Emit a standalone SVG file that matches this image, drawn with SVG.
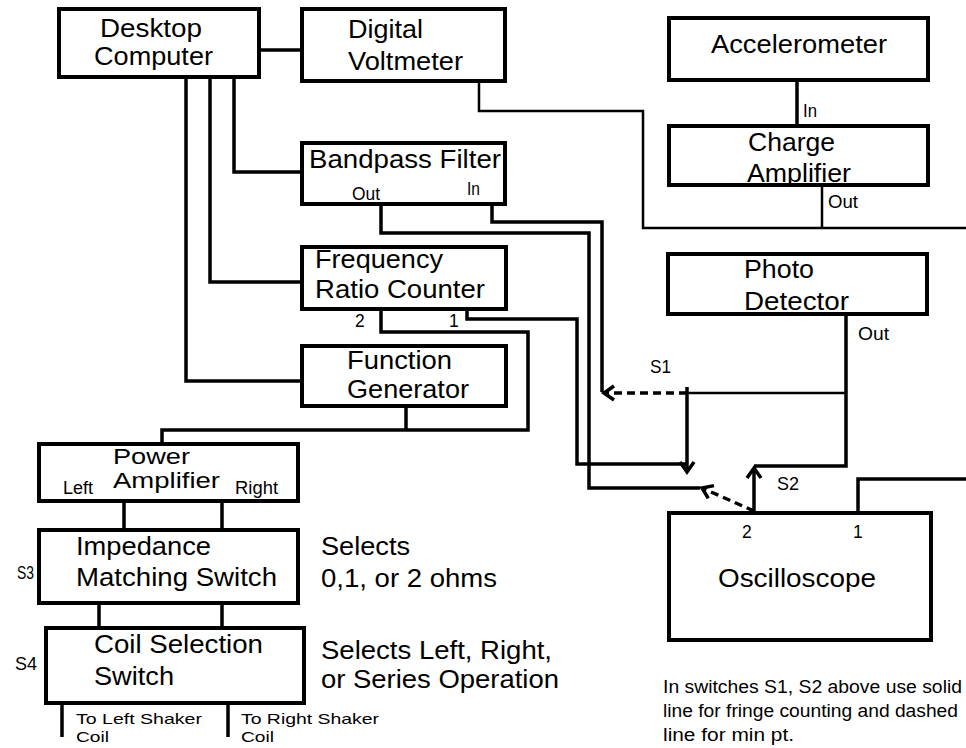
<svg xmlns="http://www.w3.org/2000/svg" width="966" height="748" viewBox="0 0 966 748">
<style>
  .box{fill:#fff;stroke:#000;stroke-width:4}
  .lbl{font-family:"Liberation Sans",Arial,sans-serif;font-size:26px;fill:#000}
  .sm{font-family:"Liberation Sans",Arial,sans-serif;font-size:17.5px;fill:#000}
  .coil{font-family:"Liberation Sans",Arial,sans-serif;font-size:15px;fill:#000}
  .note{font-family:"Liberation Sans",Arial,sans-serif;font-size:17.5px;fill:#000}
  .w3{fill:none;stroke:#000;stroke-width:3.5}
  .w2{fill:none;stroke:#000;stroke-width:2.5}
  .dash{fill:none;stroke:#000;stroke-width:3.5;stroke-dasharray:8 5}
</style>
<defs>
  <marker id="arr" markerUnits="userSpaceOnUse" markerWidth="20" markerHeight="20" refX="14" refY="10" orient="auto">
    <path d="M4,3 L14,10 L4,17" fill="none" stroke="#000" stroke-width="3.5"/>
  </marker>
</defs>
<rect width="966" height="748" fill="#fff"/>

<g id="connectors">
  <path class="w3" d="M259,50 H302"/>
  <path class="w3" d="M234,77 V172 H302"/>
  <path class="w3" d="M210,77 V282 H302"/>
  <path class="w3" d="M186,77 V381 H302"/>
  <path class="w2" d="M479,81 V111 H643 V228 H966"/>
  <path class="w2" d="M822,185 V228"/>
  <path class="w3" d="M797,80 V126"/>
  <path class="w3" d="M492,204 V222 H602 V392"/>
  <path class="w3" d="M381,204 V233 H589 V488 H700"/>
  <path class="w3" d="M467,309 V319 H577 V464 H687"/>
  <path class="w3" d="M381,309 V332 H528 V430 H162 V444"/>
  <path class="w3" d="M406,406 V430"/>
  <path class="w3" d="M846,314 V466 H754"/>
  <path class="w2" d="M846,393 H687"/>
  <path class="w3" d="M687,387 V472" marker-end="url(#arr)"/>
  <path class="dash" d="M687,393 H604" marker-end="url(#arr)"/>
  <path class="w3" d="M754,513 V468" marker-end="url(#arr)"/>
  <path class="dash" d="M754,511 L702,488" marker-end="url(#arr)"/>
  <path class="w3" d="M858,513 V479 H966"/>
  <path class="w3" d="M124,501 V530 M222,501 V530"/>
  <path class="w3" d="M99,603 V628 M222,600 V628"/>
  <path class="w3" d="M62,703 V737 M228,703 V737"/>
</g>

<g id="desktop">
  <rect class="box" x="59" y="9" width="200" height="68"/>
  <text class="lbl" x="100" y="37" textLength="102" lengthAdjust="spacingAndGlyphs">Desktop</text>
  <text class="lbl" x="94" y="65" textLength="119" lengthAdjust="spacingAndGlyphs">Computer</text>
</g>
<g id="dvm">
  <rect class="box" x="302" y="9" width="203" height="72"/>
  <text class="lbl" x="348" y="38" textLength="75" lengthAdjust="spacingAndGlyphs">Digital</text>
  <text class="lbl" x="348" y="70" textLength="115" lengthAdjust="spacingAndGlyphs">Voltmeter</text>
</g>
<g id="bpf">
  <rect class="box" x="302" y="143" width="203" height="61"/>
  <text class="lbl" x="309" y="168" textLength="192" lengthAdjust="spacingAndGlyphs">Bandpass Filter</text>
  <text class="sm" x="352" y="200" textLength="28" lengthAdjust="spacingAndGlyphs">Out</text>
  <text class="sm" x="467" y="195" textLength="13" lengthAdjust="spacingAndGlyphs">In</text>
</g>
<g id="frc">
  <rect class="box" x="302" y="247" width="204" height="62"/>
  <text class="lbl" x="315" y="268" textLength="128" lengthAdjust="spacingAndGlyphs">Frequency</text>
  <text class="lbl" x="315" y="298" textLength="170" lengthAdjust="spacingAndGlyphs">Ratio Counter</text>
  <text class="sm" x="355" y="327">2</text>
  <text class="sm" x="449" y="327">1</text>
</g>
<g id="fg">
  <rect class="box" x="302" y="346" width="204" height="60"/>
  <text class="lbl" x="347" y="369" textLength="105" lengthAdjust="spacingAndGlyphs">Function</text>
  <text class="lbl" x="347" y="398" textLength="122" lengthAdjust="spacingAndGlyphs">Generator</text>
</g>
<g id="pa">
  <rect class="box" x="39" y="444" width="259" height="57"/>
  <text class="lbl" x="113" y="464" style="font-size:22px" textLength="77" lengthAdjust="spacingAndGlyphs">Power</text>
  <text class="lbl" x="113" y="488" style="font-size:22px" textLength="107" lengthAdjust="spacingAndGlyphs">Amplifier</text>
  <text class="sm" x="63" y="494" textLength="30" lengthAdjust="spacingAndGlyphs">Left</text>
  <text class="sm" x="235" y="494" textLength="43" lengthAdjust="spacingAndGlyphs">Right</text>
</g>
<g id="ims">
  <rect class="box" x="39" y="530" width="259" height="73"/>
  <text class="lbl" x="76" y="555" textLength="135" lengthAdjust="spacingAndGlyphs">Impedance</text>
  <text class="lbl" x="76" y="586" textLength="201" lengthAdjust="spacingAndGlyphs">Matching Switch</text>
  <text class="sm" x="17" y="579" textLength="17" lengthAdjust="spacingAndGlyphs">S3</text>
  <text class="lbl" x="321" y="555" textLength="89" lengthAdjust="spacingAndGlyphs">Selects</text>
  <text class="lbl" x="321" y="587" textLength="176" lengthAdjust="spacingAndGlyphs">0,1, or 2 ohms</text>
</g>
<g id="css">
  <rect class="box" x="46" y="628" width="258" height="75"/>
  <text class="lbl" x="94" y="653" textLength="169" lengthAdjust="spacingAndGlyphs">Coil Selection</text>
  <text class="lbl" x="94" y="685" textLength="80" lengthAdjust="spacingAndGlyphs">Switch</text>
  <text class="sm" x="15" y="670" textLength="22" lengthAdjust="spacingAndGlyphs">S4</text>
  <text class="lbl" x="321" y="659" textLength="231" lengthAdjust="spacingAndGlyphs">Selects Left, Right,</text>
  <text class="lbl" x="321" y="688" textLength="238" lengthAdjust="spacingAndGlyphs">or Series Operation</text>
  <text class="coil" x="76" y="724" textLength="126" lengthAdjust="spacingAndGlyphs">To Left Shaker</text>
  <text class="coil" x="76" y="742" textLength="33" lengthAdjust="spacingAndGlyphs">Coil</text>
  <text class="coil" x="241" y="724" textLength="138" lengthAdjust="spacingAndGlyphs">To Right Shaker</text>
  <text class="coil" x="241" y="742" textLength="33" lengthAdjust="spacingAndGlyphs">Coil</text>
</g>
<g id="accel">
  <rect class="box" x="669" y="18" width="259" height="62"/>
  <text class="lbl" x="711" y="53" textLength="176" lengthAdjust="spacingAndGlyphs">Accelerometer</text>
</g>
<g id="charge">
  <rect class="box" x="669" y="126" width="259" height="59"/>
  <text class="lbl" x="748" y="151" textLength="87" lengthAdjust="spacingAndGlyphs">Charge</text>
  <text class="lbl" x="747" y="182" textLength="104" lengthAdjust="spacingAndGlyphs">Amplifier</text>
  <text class="sm" x="803" y="117" textLength="14" lengthAdjust="spacingAndGlyphs">In</text>
  <text class="sm" x="828" y="208" textLength="30" lengthAdjust="spacingAndGlyphs">Out</text>
</g>
<g id="pd">
  <rect class="box" x="668" y="254" width="259" height="60"/>
  <text class="lbl" x="744" y="278" textLength="70" lengthAdjust="spacingAndGlyphs">Photo</text>
  <text class="lbl" x="744" y="310" textLength="105" lengthAdjust="spacingAndGlyphs">Detector</text>
  <text class="sm" x="858" y="340" textLength="31" lengthAdjust="spacingAndGlyphs">Out</text>
</g>
<g id="osc">
  <rect class="box" x="669" y="513" width="262" height="127"/>
  <text class="sm" x="742" y="538">2</text>
  <text class="sm" x="853" y="538">1</text>
  <text class="lbl" x="718" y="587" textLength="158" lengthAdjust="spacingAndGlyphs">Oscilloscope</text>
</g>
<g id="switch-labels">
  <text class="sm" x="650" y="373" textLength="21" lengthAdjust="spacingAndGlyphs">S1</text>
  <text class="sm" x="777" y="490" textLength="22" lengthAdjust="spacingAndGlyphs">S2</text>
</g>
<g id="note">
  <text class="note" x="663" y="693" textLength="299" lengthAdjust="spacingAndGlyphs">In switches S1, S2 above use solid</text>
  <text class="note" x="663" y="717" textLength="295" lengthAdjust="spacingAndGlyphs">line for fringe counting and dashed</text>
  <text class="note" x="663" y="741" textLength="131" lengthAdjust="spacingAndGlyphs">line for min pt.</text>
</g>
</svg>
